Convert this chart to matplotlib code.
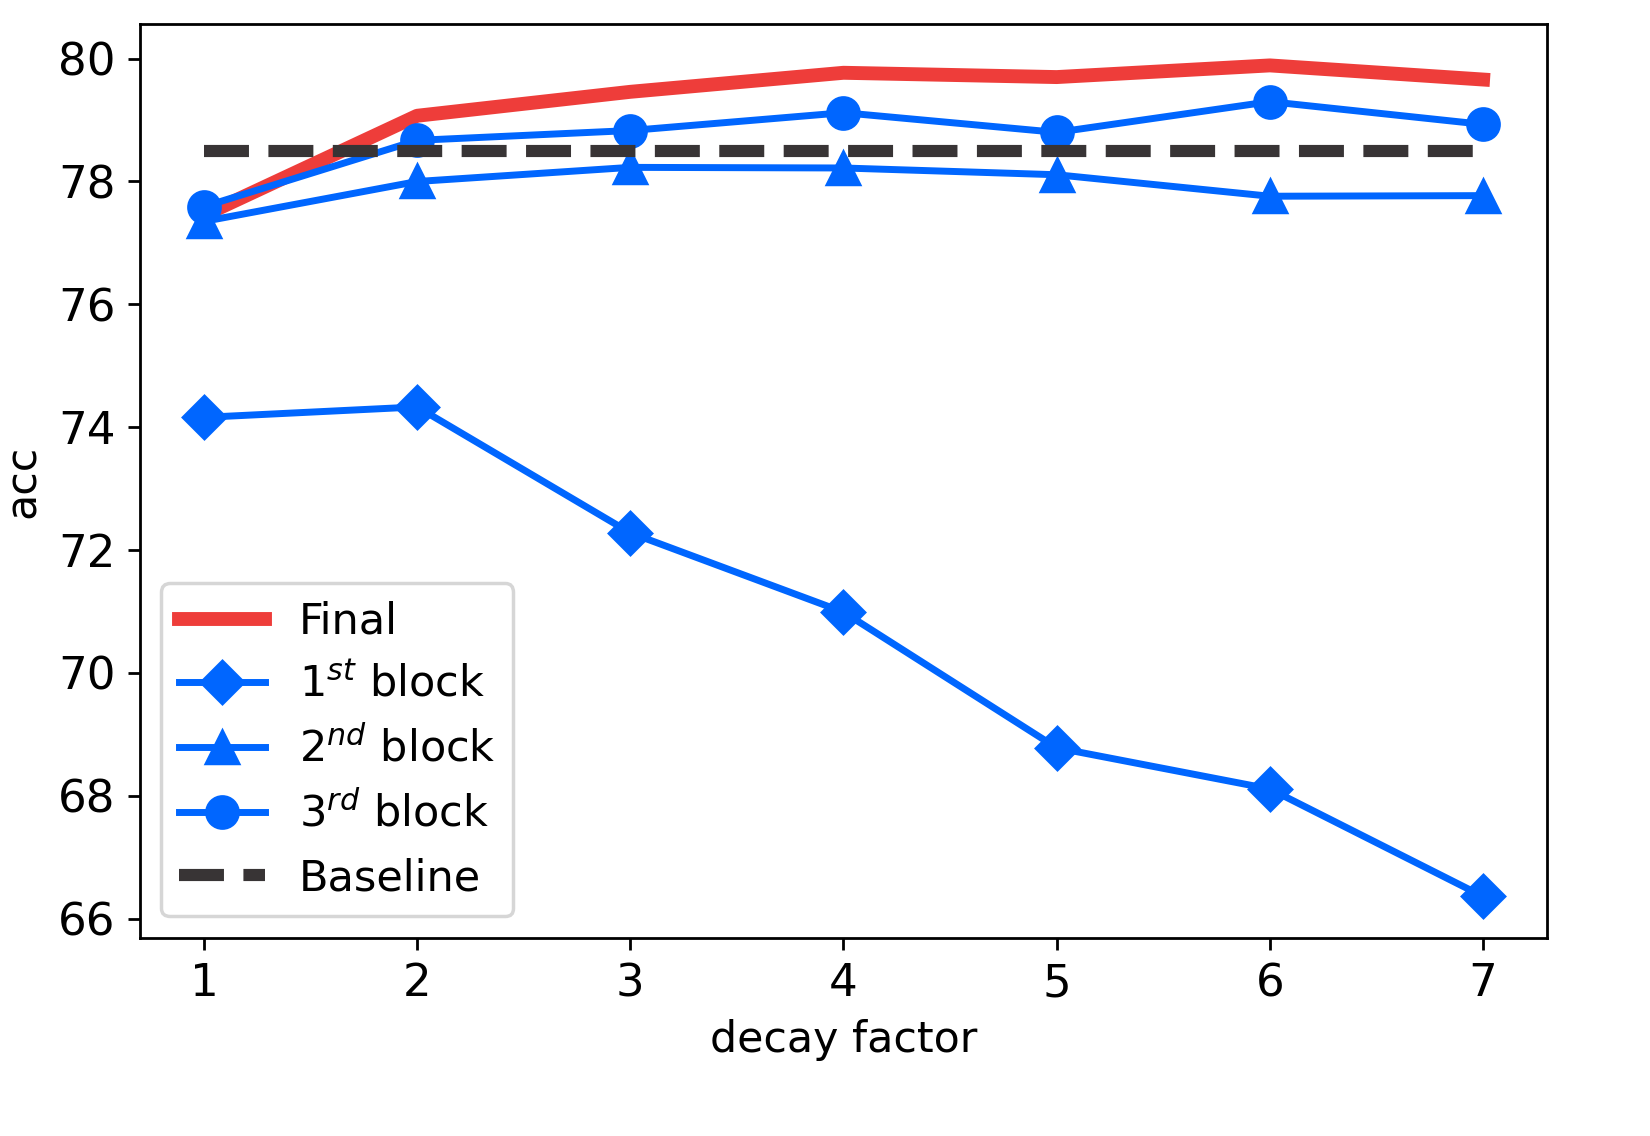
import matplotlib
matplotlib.use("Agg")
import matplotlib.pyplot as plt

# decay factor values on x axis
decay = [1, 2, 3, 4, 5, 6, 7]

# accuracies
final_acc = [77.45, 79.07, 79.46, 79.77, 79.70, 79.89, 79.66]
block1_acc = [74.16, 74.33, 72.28, 70.99, 68.78, 68.11, 66.36]
block2_acc = [77.35, 78.00, 78.23, 78.22, 78.11, 77.76, 77.77]
block3_acc = [77.59, 78.67, 78.83, 79.12, 78.80, 79.30, 78.93]
baseline_acc = 78.5

red = "#ee3d3a"
blue = "#0066ff"

fig = plt.figure(figsize=(6.6, 4.544), dpi=250)
ax = fig.add_axes([0.0848, 0.1743, 0.8528, 0.8047])

ax.plot(decay, final_acc, color=red, linewidth=4, label="Final")
ax.plot(decay, block1_acc, color=blue, linewidth=2, marker="D", markersize=8.5,
        label=r"1$^{st}$ block")
ax.plot(decay, block2_acc, color=blue, linewidth=2, marker="^", markersize=9,
        label=r"2$^{nd}$ block")
ax.plot(decay, block3_acc, color=blue, linewidth=2, marker="o", markersize=9,
        label=r"3$^{rd}$ block")
ax.plot(decay, [baseline_acc] * len(decay), color="#383435", linewidth=3.5,
        linestyle="--", label="Baseline")

ax.set_xlabel("decay factor", fontsize=12.3)
ax.set_ylabel("acc", fontsize=12.3)
ax.tick_params(labelsize=13)
ax.set_yticks([66, 68, 70, 72, 74, 76, 78, 80])
ax.legend(loc="lower left", fontsize=12.4, handlelength=2.0)

fig.savefig("out.png", dpi=250)
